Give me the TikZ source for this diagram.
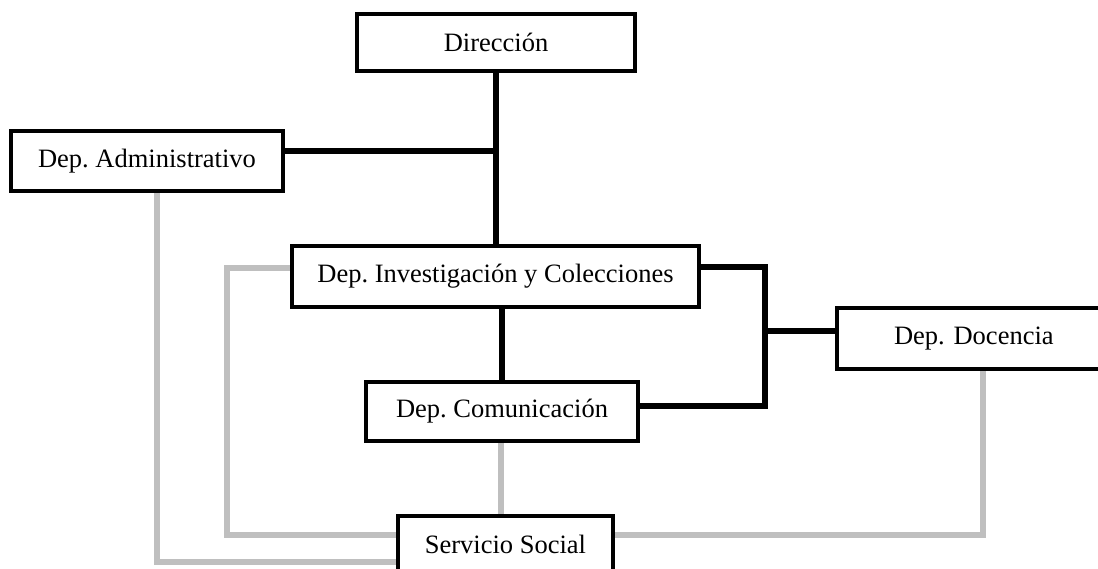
\documentclass[tikz,border=0pt]{standalone}
\usepackage{fontspec}
\setmainfont{Liberation Serif}
\definecolor{lineagris}{RGB}{191,191,191}
\frenchspacing

\begin{document}
\begin{tikzpicture}[x=1pt,y=-1pt,
		caja/.style={draw=black,line width=4.5pt,fill=white,inner sep=0pt,font=\fontsize{26.5}{30}\selectfont},
		negra/.style={black,line width=5.5pt},
		gris/.style={lineagris,line width=5.5pt}]
		\useasboundingbox (0,0) rectangle (1098,569);
		\draw [negra] (496,71) -- (496,246);
		\draw [negra] (283,151) -- (496,151);
		\draw [negra] (502,307) -- (502,382);
		\draw [negra] (699,267) -- (765,267) -- (765,406) -- (638,406);
		\draw [negra] (765,331) -- (837,331);
		\coordinate (g1) at (157,562);
		\coordinate (g2) at (227,535);
		\coordinate (g3) at (983,535);
		\node [caja,minimum width=278pt,minimum height=57pt] (dir) at (496,42.5) {Dirección};
		\node [caja,minimum width=272pt,minimum height=60pt] (adm) at (147,161) {Dep. Administrativo};
		\node [caja,minimum width=407pt,minimum height=61pt] (inv) at (495.5,276.5) {Dep. Investigación y Colecciones};
		\node [caja,minimum width=273pt,minimum height=61pt,text width=255pt,align=left] (doc) at (973.5,338.5) {\hspace*{48pt}Dep. Docencia};
		\node [caja,minimum width=272pt,minimum height=59pt] (com) at (502,411.5) {Dep. Comunicación};
		\node [caja,minimum width=215pt,minimum height=57pt] (ss) at (505.5,544.5) {Servicio Social};
		\draw [gris] (adm.south -| g1) -- (g1) -- (ss.west |- g1);
		\draw [gris] (inv.west |- 0,268) -- (g2 |- 0,268) -- (g2) -- (ss.west |- g2);
		\draw [gris] (com.south -| 501,0) -- (ss.north -| 501,0);
		\draw [gris] (ss.east |- g3) -- (g3) -- (doc.south -| g3);
	\end{tikzpicture}
\end{document}
